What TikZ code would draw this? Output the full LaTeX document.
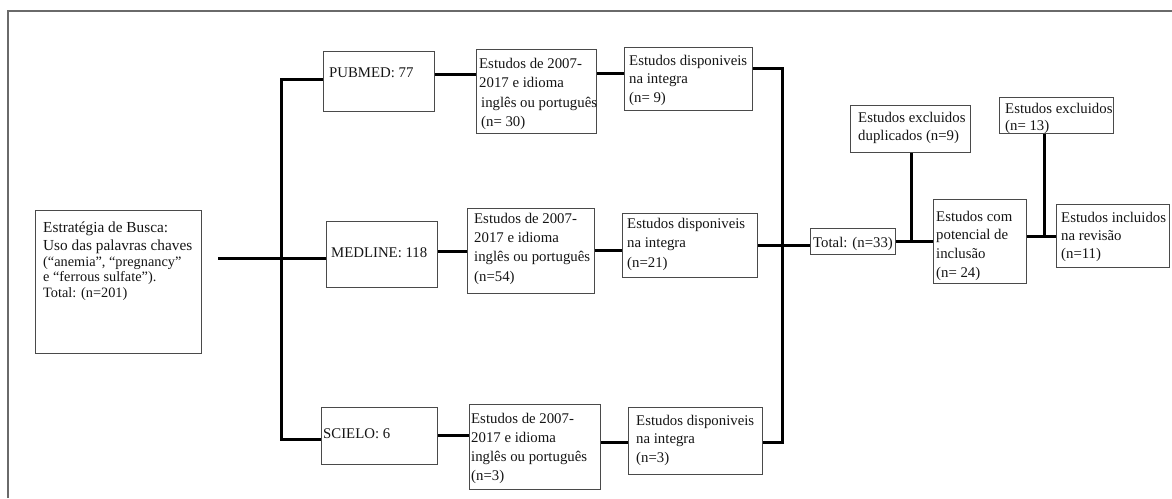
\documentclass[tikz,border=0pt]{standalone}
\usepackage{fontspec}
\setmainfont{Liberation Serif}
\definecolor{boxgray}{HTML}{4A4A4A}
\definecolor{framegray}{HTML}{6A6A6A}
\definecolor{txt}{HTML}{141414}
\begin{document}
\begin{tikzpicture}[x=1pt,y=-1pt,
  box/.style={draw=boxgray, line width=1.1pt, inner sep=0pt, anchor=north west},
  lbl/.style={anchor=north west, inner sep=0pt, align=left, text=txt,
    font={\fontsize{14.8}{19}\selectfont}},
  conn/.style={line width=3pt, black},
  frame/.style={line width=1.2pt, framegray}]
\useasboundingbox (0,0) rectangle (1172,498);
\draw[frame] (8,498) -- (8,11) -- (1172,11);
% boxes
\node[box, minimum width=166pt, minimum height=143pt] (est) at (35,210) {};
\node[box, minimum width=111pt, minimum height=60pt] (pub) at (323,51) {};
\node[box, minimum width=111pt, minimum height=66pt] (med) at (326,221) {};
\node[box, minimum width=116pt, minimum height=57pt] (sci) at (321,407) {};
\node[box, minimum width=120pt, minimum height=84pt] (e1) at (476,49) {};
\node[box, minimum width=127pt, minimum height=85pt] (e2) at (467,208) {};
\node[box, minimum width=131pt, minimum height=85pt] (e3) at (469,404) {};
\node[box, minimum width=128pt, minimum height=63pt] (d1) at (624,47) {};
\node[box, minimum width=135pt, minimum height=64pt] (d2) at (622,213) {};
\node[box, minimum width=134pt, minimum height=67pt] (d3) at (628,407) {};
\node[box, minimum width=85pt, minimum height=26pt] (tot) at (810,228) {};
\node[box, minimum width=120pt, minimum height=47pt] (exd) at (850,105) {};
\node[box, minimum width=93pt, minimum height=84pt] (pot) at (933,199) {};
\node[box, minimum width=114pt, minimum height=36pt] (ex13) at (999,97) {};
\node[box, minimum width=113pt, minimum height=63pt] (inc) at (1056,204) {};
% texts
\node[lbl, font={\fontsize{15.3}{18}\selectfont}] (test) at (43,221) {\rule{0pt}{11pt}Estratégia de Busca:\\Uso das palavras chaves};
\node[lbl, font={\fontsize{14.3}{15.5}\selectfont}] (test2) at (43,256) {\rule{0pt}{10pt}(“anemia”, “pregnancy”\\e “ferrous sulfate”).\\Total: (n=201)};
\node[lbl] (tpub) at (329,66) {\rule{0pt}{11pt}PUBMED: 77};
\node[lbl] (tmed) at (331,246) {\rule{0pt}{11pt}MEDLINE: 118};
\node[lbl] (tsci) at (323,427) {\rule{0pt}{11pt}SCIELO: 6};
\node[lbl, font={\fontsize{14.8}{19.5}\selectfont}] (te1) at (479,57) {\rule{0pt}{11pt}Estudos de 2007-\\2017 e idioma\\\hspace{2pt}inglês ou português\\\hspace{2pt}(n= 30)};
\node[lbl, font={\fontsize{14.8}{19.3}\selectfont}] (te2) at (474,212) {\rule{0pt}{11pt}Estudos de 2007-\\2017 e idioma\\inglês ou português\\(n=54)};
\node[lbl, font={\fontsize{14.8}{19}\selectfont}] (te3) at (471,412) {\rule{0pt}{11pt}Estudos de 2007-\\2017 e idioma\\inglês ou português\\(n=3)};
\node[lbl, font={\fontsize{14.8}{18.5}\selectfont}] (td1) at (629,54) {\rule{0pt}{11pt}Estudos disponiveis\\na integra\\(n= 9)};
\node[lbl, font={\fontsize{14.8}{19.5}\selectfont}] (td2) at (627,217) {\rule{0pt}{11pt}Estudos disponiveis\\na integra\\(n=21)};
\node[lbl, font={\fontsize{14.8}{18.5}\selectfont}] (td3) at (636,414) {\rule{0pt}{11pt}Estudos disponiveis\\na integra\\(n=3)};
\node[lbl] (ttot) at (813,236) {\rule{0pt}{11pt}Total: (n=33)};
\node[lbl, font={\fontsize{14.8}{18}\selectfont}] (texd) at (858,111) {\rule{0pt}{11pt}Estudos excluidos\\duplicados (n=9)};
\node[lbl, font={\fontsize{14.8}{18.7}\selectfont}] (tpot) at (936,210) {\rule{0pt}{11pt}Estudos com\\potencial de\\inclusão\\(n= 24)};
\node[lbl, font={\fontsize{14.8}{17}\selectfont}] (tex13) at (1005,102) {\rule{0pt}{11pt}Estudos excluidos\\(n= 13)};
\node[lbl, font={\fontsize{14.8}{18}\selectfont}] (tinc) at (1061,211) {\rule{0pt}{11pt}Estudos incluidos\\na revisão\\(n=11)};
% helper coordinates
\coordinate (s0) at (218,258);
\coordinate (tTop) at (281,79);
\coordinate (tBot) at (281,439);
\coordinate (rTop) at (782,68);
\coordinate (rMid) at (782,245);
\coordinate (rBot) at (782,442);
\coordinate (y1a) at (0,74);
\coordinate (y1b) at (0,73);
\coordinate (y2a) at (0,251);
\coordinate (y2b) at (0,250);
\coordinate (y3a) at (0,435);
\coordinate (y3b) at (0,442);
\coordinate (jA) at (911,241);
\coordinate (jB) at (1044,236);
% connectors
\draw[conn] (s0) -- (s0 -| med.west);
\draw[conn] (tTop -| pub.west) -- (tTop) -- (tBot) -- (tBot -| sci.west);
\draw[conn] (pub.east |- y1a) -- (e1.west |- y1a);
\draw[conn] (e1.east |- y1b) -- (d1.west |- y1b);
\draw[conn] (med.east |- y2a) -- (e2.west |- y2a);
\draw[conn] (e2.east |- y2b) -- (d2.west |- y2b);
\draw[conn] (sci.east |- y3a) -- (e3.west |- y3a);
\draw[conn] (e3.east |- y3b) -- (d3.west |- y3b);
\draw[conn] (d1.east |- rTop) -- (rTop) -- (rBot) -- (d3.east |- rBot);
\draw[conn] (d2.east |- rMid) -- (tot.west |- rMid);
\draw[conn] (tot.east |- jA) -- (pot.west |- jA);
\draw[conn] (exd.south -| jA) -- (jA);
\draw[conn] (pot.east |- jB) -- (inc.west |- jB);
\draw[conn] (ex13.south -| jB) -- (jB);
\end{tikzpicture}
\end{document}
